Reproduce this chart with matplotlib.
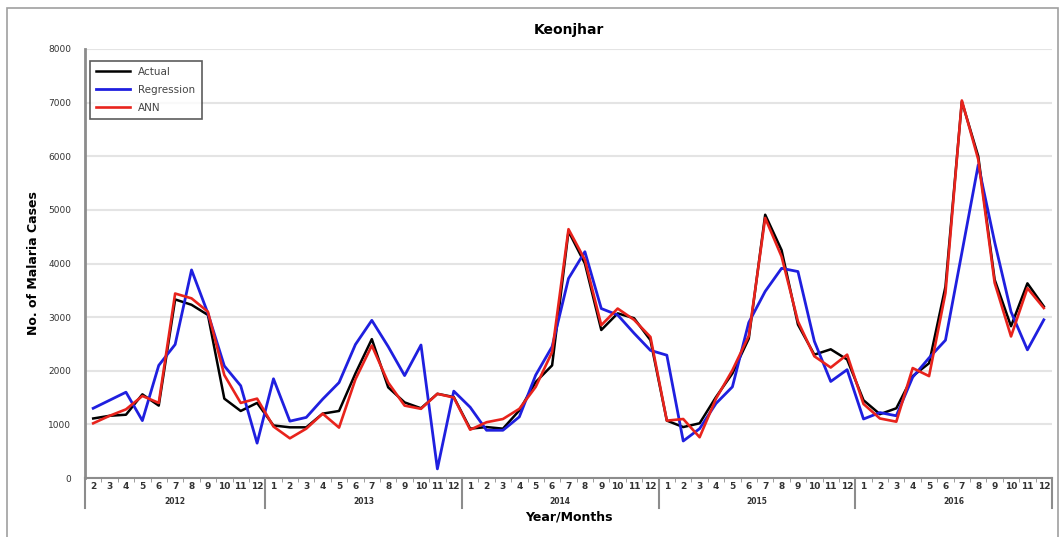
import numpy as np
import matplotlib.pyplot as plt
from matplotlib.patches import Rectangle

# months shown per year (2012 starts at February)
years = ['2012', '2013', '2014', '2015', '2016']
months = {
    '2012': list(range(2, 13)),
    '2013': list(range(1, 13)),
    '2014': list(range(1, 13)),
    '2015': list(range(1, 13)),
    '2016': list(range(1, 13)),
}

actual = [1110, 1160, 1180, 1560, 1350, 3330, 3230, 3040, 1480, 1250, 1400,
          980, 945, 945, 1200, 1250, 1950, 2590, 1690, 1410, 1300, 1570, 1510,
          920, 950, 920, 1260, 1790, 2100, 4600, 4000, 2760, 3070, 2980, 2570,
          1070, 950, 1020, 1510, 1950, 2600, 4910, 4250, 2860, 2300, 2400, 2210,
          1450, 1190, 1300, 1900, 2140, 3570, 7020, 6000, 3700, 2830, 3630, 3200]

regression = [1300, 1450, 1600, 1070, 2100, 2490, 3880, 3070, 2090, 1720, 650,
              1850, 1060, 1130, 1470, 1780, 2490, 2940, 2450, 1910, 2480, 170, 1620,
              1320, 890, 890, 1140, 1920, 2450, 3720, 4220, 3160, 3040, 2700, 2380,
              2290, 690, 920, 1390, 1700, 2900, 3480, 3910, 3850, 2550, 1800, 2020,
              1100, 1220, 1160, 1880, 2240, 2570, 4200, 5840, 4400, 3100, 2390, 2950]

ann = [1020, 1160, 1280, 1530, 1400, 3440, 3350, 3100, 1920, 1400, 1480,
       960, 740, 920, 1200, 940, 1840, 2470, 1780, 1350, 1290, 1570, 1500,
       900, 1040, 1100, 1290, 1700, 2350, 4640, 4070, 2850, 3160, 2950, 2630,
       1070, 1100, 760, 1480, 2010, 2650, 4850, 4130, 2920, 2270, 2060, 2300,
       1380, 1110, 1050, 2050, 1900, 3450, 7040, 5940, 3640, 2640, 3540, 3170]

month_labels = [str(m) for y in years for m in months[y]]
x = np.arange(len(month_labels))

fig = plt.figure(figsize=(10.64, 5.37), dpi=100)
ax = fig.add_axes([85 / 1064, 1 - 478 / 537, 967 / 1064, 429 / 537])

# gray frame around the whole picture
fig.patches.append(Rectangle((7 / 1064, -0.05), 1051 / 1064, 1 - 8 / 537 + 0.05,
                             transform=fig.transFigure, fill=False,
                             edgecolor='#a0a0a0', linewidth=1.2))

ax.plot(x, actual, color='black', lw=1.8, label='Actual')
ax.plot(x, regression, color='#1f1fdf', lw=2, label='Regression')
ax.plot(x, ann, color='#e8231c', lw=1.9, label='ANN')

ax.set_xlim(-0.5, len(x) - 0.5)
ax.set_ylim(0, 8000)
ax.set_yticks(range(0, 8001, 1000))
ax.tick_params(axis='y', length=0, labelsize=6.5, pad=10, labelcolor='#333333')
ax.yaxis.grid(True, color='#e4e4e4', lw=1.5)
ax.set_axisbelow(True)

for s in ['top', 'right']:
    ax.spines[s].set_visible(False)
ax.spines['left'].set_color('#8c8c8c')
ax.spines['left'].set_linewidth(2)
ax.spines['bottom'].set_color('#8c8c8c')
ax.spines['bottom'].set_linewidth(1.5)

# month labels under each point, small ticks at boundaries
ax.set_xticks(x)
ax.set_xticklabels(month_labels, fontsize=6.5, fontweight='bold', color='#333333')
ax.tick_params(axis='x', length=0, pad=3)
ax.set_xticks(np.arange(-0.5, len(x), 0.5), minor=True)
ax.tick_params(axis='x', which='minor', length=3, color='#8c8c8c', direction='out')

# year groups: separators and year labels
start = 0
bounds = [-0.5]
for y in years:
    n = len(months[y])
    ax.text(start + (n - 1) / 2, -0.045, y, transform=ax.get_xaxis_transform(),
            ha='center', va='top', fontsize=5.5, fontweight='bold', color='#333333')
    start += n
    bounds.append(start - 0.5)
for b in bounds:
    ax.plot([b, b], [0, -0.07], transform=ax.get_xaxis_transform(),
            color='#8c8c8c', lw=1.5, clip_on=False)

ax.set_title('Keonjhar', fontsize=10, fontweight='bold', pad=11)
ax.set_ylabel('No. of Malaria Cases', fontsize=9, fontweight='bold', labelpad=6)
ax.set_xlabel('Year/Months', fontsize=9, fontweight='bold', labelpad=14)

leg = ax.legend(loc='upper left', fontsize=7.5, frameon=True, fancybox=False,
                borderpad=0.6, labelspacing=0.75, handlelength=3.2,
                bbox_to_anchor=(0.0, 0.985))
leg.get_frame().set_edgecolor('#333333')
leg.get_frame().set_linewidth(1.2)
for t in leg.get_texts():
    t.set_color('#444444')

fig.savefig('out.png', dpi=100)
